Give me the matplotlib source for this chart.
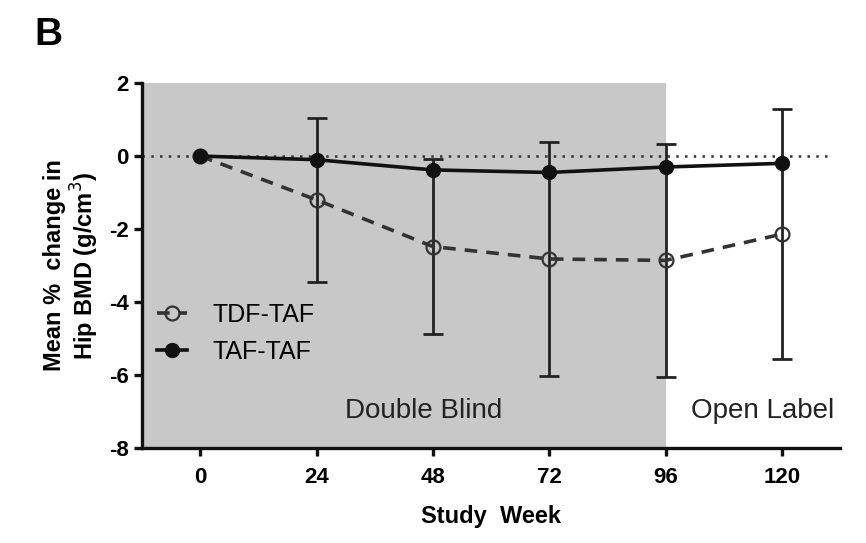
import matplotlib.pyplot as plt
import numpy as np

plt.rcParams['font.family'] = ['Liberation Sans', 'DejaVu Sans']
plt.rcParams['axes.unicode_minus'] = False

# data
weeks = [0, 24, 48, 72, 96, 120]
tdf_taf = [0.0, -1.2, -2.48, -2.82, -2.86, -2.14]
tdf_err = [0.0, 2.25, 2.4, 3.2, 3.2, 3.42]
taf_taf = [0.0, -0.1, -0.38, -0.45, -0.3, -0.2]
y_ticks = [2, 0, -2, -4, -6, -8]


def main():
    fig = plt.figure(figsize=(8.66, 5.43), dpi=100)
    ax = fig.add_axes([0.164, 0.175, 0.806, 0.672])

    # shaded double blind period
    ax.axvspan(-12, 96, color='#c8c8c8', zorder=0, lw=0)
    ax.axhline(0, color='#333333', ls=(0, (1, 2.5)), lw=1.8, xmax=0.985, zorder=1)

    ax.errorbar(weeks[1:], tdf_taf[1:], yerr=tdf_err[1:], fmt='none',
                ecolor='#222222', elinewidth=2, capsize=7, capthick=2, zorder=2)
    ax.plot(weeks, tdf_taf, '--o', color='#333333', lw=2.6, ms=10,
            mfc='none', mec='#333333', mew=1.6, dashes=(3.5, 2.5),
            label='TDF-TAF', zorder=3)
    ax.plot(weeks, taf_taf, '-o', color='#111111', lw=2.6, ms=10,
            label='TAF-TAF', zorder=4)

    ax.set_xlim(-12, 132)
    ax.set_ylim(-8, 2)
    ax.set_xticks(weeks)
    ax.set_yticks(y_ticks)
    for s in ['top', 'right']:
        ax.spines[s].set_visible(False)
    for s in ['left', 'bottom']:
        ax.spines[s].set_linewidth(2.4)
        ax.spines[s].set_color('#111111')
    ax.tick_params(width=2.4, length=6, labelsize=16, color='#111111')
    ax.tick_params(axis='x', pad=8)
    for lab in ax.get_xticklabels() + ax.get_yticklabels():
        lab.set_fontweight('bold')

    ax.set_xlabel('Study  Week', fontsize=17, fontweight='bold', labelpad=12)
    ax.set_ylabel('Mean %  change in\nHip BMD (g/cm$^3$)', fontsize=17,
                  fontweight='bold', labelpad=6, linespacing=1.1)

    ax.text(46, -7.0, 'Double Blind', fontsize=20, ha='center', va='center',
            color='#222222')
    ax.text(116, -7.0, 'Open Label', fontsize=20, ha='center', va='center',
            color='#222222')

    ax.legend(loc='lower left', bbox_to_anchor=(0.0, 0.19), frameon=False,
              fontsize=18, handlelength=1.2, handletextpad=1.0,
              labelspacing=0.5, borderaxespad=0.2)

    fig.text(0.04, 0.935, 'B', fontsize=28, fontweight='bold', va='center')

    fig.savefig('out.png', dpi=100)


if __name__ == "__main__":
    main()
